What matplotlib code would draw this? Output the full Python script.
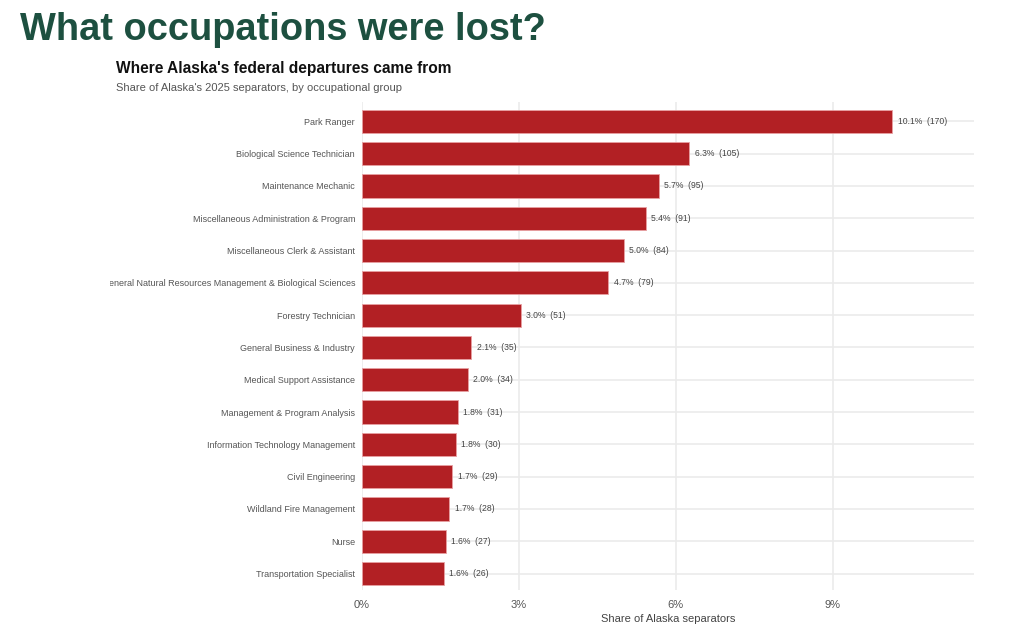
import matplotlib.pyplot as plt
from matplotlib.transforms import Bbox, TransformedBbox

plt.rcParams['font.family'] = ['Liberation Sans', 'DejaVu Sans']

# Datos del grafico (de arriba hacia abajo)
occupations = ['Park Ranger', 'Biological Science Technician', 'Maintenance Mechanic',
               'Miscellaneous Administration & Program', 'Miscellaneous Clerk & Assistant',
               'General Natural Resources Management & Biological Sciences',
               'Forestry Technician', 'General Business & Industry', 'Medical Support Assistance',
               'Management & Program Analysis', 'Information Technology Management',
               'Civil Engineering', 'Wildland Fire Management', 'Nurse',
               'Transportation Specialist']
shares = [10.14, 6.26, 5.67, 5.43, 5.01, 4.71, 3.04, 2.09, 2.03, 1.84, 1.79, 1.73, 1.67, 1.61, 1.56]
counts = [170, 105, 95, 91, 84, 79, 51, 35, 34, 31, 30, 29, 28, 27, 26]
xticks = [0, 3, 6, 9]

bar_color = '#b22024'
green = '#1d5040'

fig = plt.figure(figsize=(10.24, 6.35), dpi=100)
ax = fig.add_axes([362/1024, 1 - 590/635, (974 - 362)/1024, (590 - 102)/635])

y = list(range(len(occupations)))
ax.barh(y, shares, height=0.72, color=bar_color, edgecolor='#e8a0a2', linewidth=0.6, zorder=3)

for yi, s, c in zip(y, shares, counts):
    ax.text(s + 0.1, yi, f'{s:.1f}%  ({c})', va='center', ha='left',
            fontsize=6.2, color='#444444', zorder=4)

ax.set_ylim(len(occupations) - 1 + 0.51, -0.6)
ax.set_xlim(0, 11.7)
ax.set_yticks(y)
ax.set_yticklabels(occupations, fontsize=6.5, color='#555555')
ax.set_xticks(xticks)
ax.set_xticklabels([f'{t}%' for t in xticks], fontsize=8, color='#555555')
ax.tick_params(length=0, pad=7)
ax.tick_params(axis='y', pad=5)
ax.set_xlabel('Share of Alaska separators', fontsize=8, color='#444444', labelpad=3)

ax.grid(True, color='#ebebeb', linewidth=1.2, zorder=0)
ax.set_axisbelow(True)
for sp in ax.spines.values():
    sp.set_visible(False)

# La etiqueta larga queda cortada en el borde izquierdo del grafico
clip = TransformedBbox(Bbox([[110/1024, 0], [1, 1]]), fig.transFigure)
for lbl in ax.get_yticklabels():
    lbl.set_clip_box(clip)
    lbl.set_clip_on(True)

fig.text(20/1024, 1 - 30/635, 'What occupations were lost?', fontsize=27.4, fontweight='bold',
         color=green, va='center', ha='left')
fig.text(116/1024, 1 - 68/635, "Where Alaska's federal departures came from", fontsize=11.2,
         fontweight='bold', color='#111111', va='center', ha='left')
fig.text(116/1024, 1 - 88/635, "Share of Alaska's 2025 separators, by occupational group",
         fontsize=8, color='#555555', va='center', ha='left')

fig.savefig('out.png', dpi=100, facecolor='white')
